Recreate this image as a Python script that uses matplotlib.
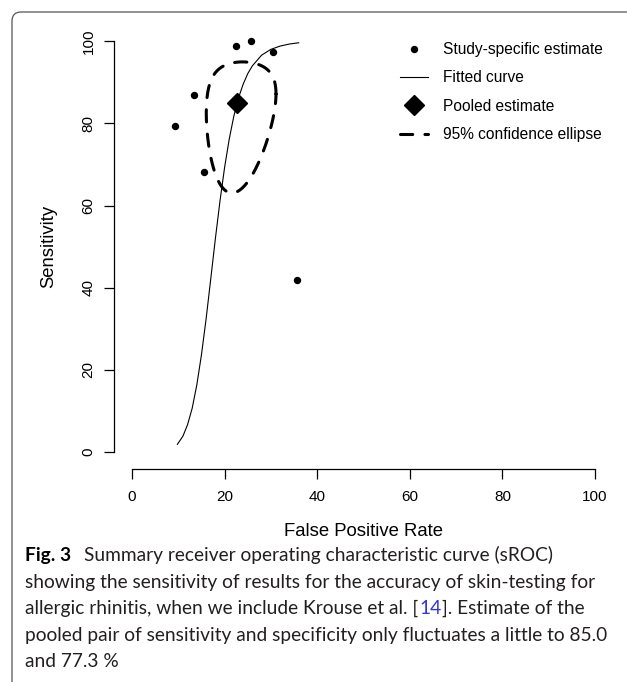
import numpy as np
import matplotlib.pyplot as plt
from matplotlib.path import Path
from matplotlib.patches import PathPatch

# study-specific estimates, percent
study_fpr = [9.3, 13.4, 15.6, 22.4, 25.8, 30.4, 35.6]
study_sens = [79.3, 86.9, 68.1, 98.8, 100.0, 97.3, 41.8]

# pooled estimate (sens 85.0, spec 77.3)
pooled_fpr = 22.7
pooled_sens = 85.0

# fitted sROC curve
curve_fpr = [9.8, 11, 12, 13, 14, 15, 16, 17, 18, 19, 20, 21, 22, 23, 24,
             25, 26, 28, 30, 32, 34, 36]
curve_sens = [1.9, 3.9, 6.7, 10.7, 16.4, 23.7, 32.4, 42.1, 51.9, 61.1, 69.3,
              76.2, 81.8, 86.2, 89.5, 92.1, 94.0, 96.6, 98.0, 98.8, 99.3, 99.6]

# 95% confidence ellipse, half widths on the logit scale round the pooled estimate
ell_half_fpr = 0.43
ell_half_sens = 1.2
ell_rho = 0.15

ticks = [0, 20, 40, 60, 80, 100]

legend_labels = ["Study-specific estimate", "Fitted curve",
                 "Pooled estimate", "95% confidence ellipse"]

caption = [
    [("Fig. 3", "black", "bold"), (" ", None, None),
     ("Summary receiver operating characteristic curve (sROC)", "#231f20", "normal")],
    [("showing the sensitivity of results for the accuracy of skin-testing for", "#231f20", "normal")],
    [("allergic rhinitis, when we include Krouse et al. [", "#231f20", "normal"),
     ("14", "#3535d8", "normal"), ("]. Estimate of the", "#231f20", "normal")],
    [("pooled pair of sensitivity and specificity only fluctuates a little to 85.0", "#231f20", "normal")],
    [("and 77.3 %", "#231f20", "normal")],
]

W, H = 627, 682
plt.rcParams['font.family'] = ['Liberation Sans', 'DejaVu Sans']

fig = plt.figure(figsize=(W / 100, H / 100), dpi=100)
ax = fig.add_axes([113.5 / W, 1 - 468.6 / H, 500 / W, 443.9 / H])
ax.set_xlim(-4, 104)
ax.set_ylim(-4, 104)

# ellipse on logit scale, back to percent
def logit(p):
    return np.log(p / (1 - p))

t = np.linspace(0, 2 * np.pi, 300)
lx = logit(pooled_fpr / 100) + ell_half_fpr * np.cos(t)
ly = logit(pooled_sens / 100) + ell_half_sens * (ell_rho * np.cos(t) + np.sqrt(1 - ell_rho ** 2) * np.sin(t))
ell_x = 100 / (1 + np.exp(-lx))
ell_y = 100 / (1 + np.exp(-ly))

h1, = ax.plot(study_fpr, study_sens, 'o', color='black', markersize=4.3, linestyle='none')
h2, = ax.plot(curve_fpr, curve_sens, color='black', lw=0.8)
h3, = ax.plot([pooled_fpr], [pooled_sens], 'D', color='black', markersize=10.5, linestyle='none')
h4, = ax.plot(ell_x, ell_y, color='black', lw=2.2, linestyle=(0, (4, 4)),
              dash_capstyle='round')

for s in ['top', 'right']:
    ax.spines[s].set_visible(False)
ax.spines['left'].set_bounds(0, 100)
ax.spines['bottom'].set_bounds(0, 100)
ax.spines['left'].set_linewidth(0.9)
ax.spines['bottom'].set_linewidth(0.9)
ax.set_xticks(ticks)
ax.set_yticks(ticks)
ax.tick_params(axis='both', length=7, width=0.9, labelsize=11)
ax.tick_params(axis='x', pad=8.5)
ax.tick_params(axis='y', pad=6)
plt.setp(ax.get_yticklabels(), rotation=90, va='center')

ax.set_xlabel("False Positive Rate", fontsize=13.3)
ax.set_ylabel("Sensitivity", fontsize=13.3)
ax.xaxis.label.set_va('center')
ax.yaxis.label.set_va('center')
ax.xaxis.set_label_coords(0.5, (468.6 - 531) / 443.9)
ax.yaxis.set_label_coords((49 - 113.5) / 500, 0.5)

ax.legend([h1, h2, h3, h4], legend_labels, loc='upper left',
          bbox_to_anchor=(400 / W, 1 - 42 / H), bbox_transform=fig.transFigure,
          frameon=False, fontsize=11.2, borderpad=0, borderaxespad=0,
          handlelength=1.8, handletextpad=0.95, labelspacing=0.86, numpoints=1)

# rounded frame, left and top edges only
verts = [(12, H + 5), (12, 21), (12, 12), (21, 12), (W + 5, 12)]
codes = [Path.MOVETO, Path.LINETO, Path.CURVE3, Path.CURVE3, Path.LINETO]
verts = [(x / W, 1 - y / H) for x, y in verts]
fig.patches.append(PathPatch(Path(verts, codes), transform=fig.transFigure,
                             fill=False, edgecolor='#555555', lw=0.9))

# caption, placed piece by piece
fig.canvas.draw()
renderer = fig.canvas.get_renderer()
cap_font = ['Lato', 'DejaVu Sans']
baselines = [561, 587.6, 614.2, 640.8, 667.4]
for line, yb in zip(caption, baselines):
    x = 25
    for txt, color, weight in line:
        if color is None:
            x += 12
            continue
        tx = fig.text(x / W, 1 - yb / H, txt, color=color, fontweight=weight,
                      family=cap_font, fontsize=13.8, ha='left', va='baseline')
        x = tx.get_window_extent(renderer).x1 + 1

fig.savefig('out.png', dpi=100)
